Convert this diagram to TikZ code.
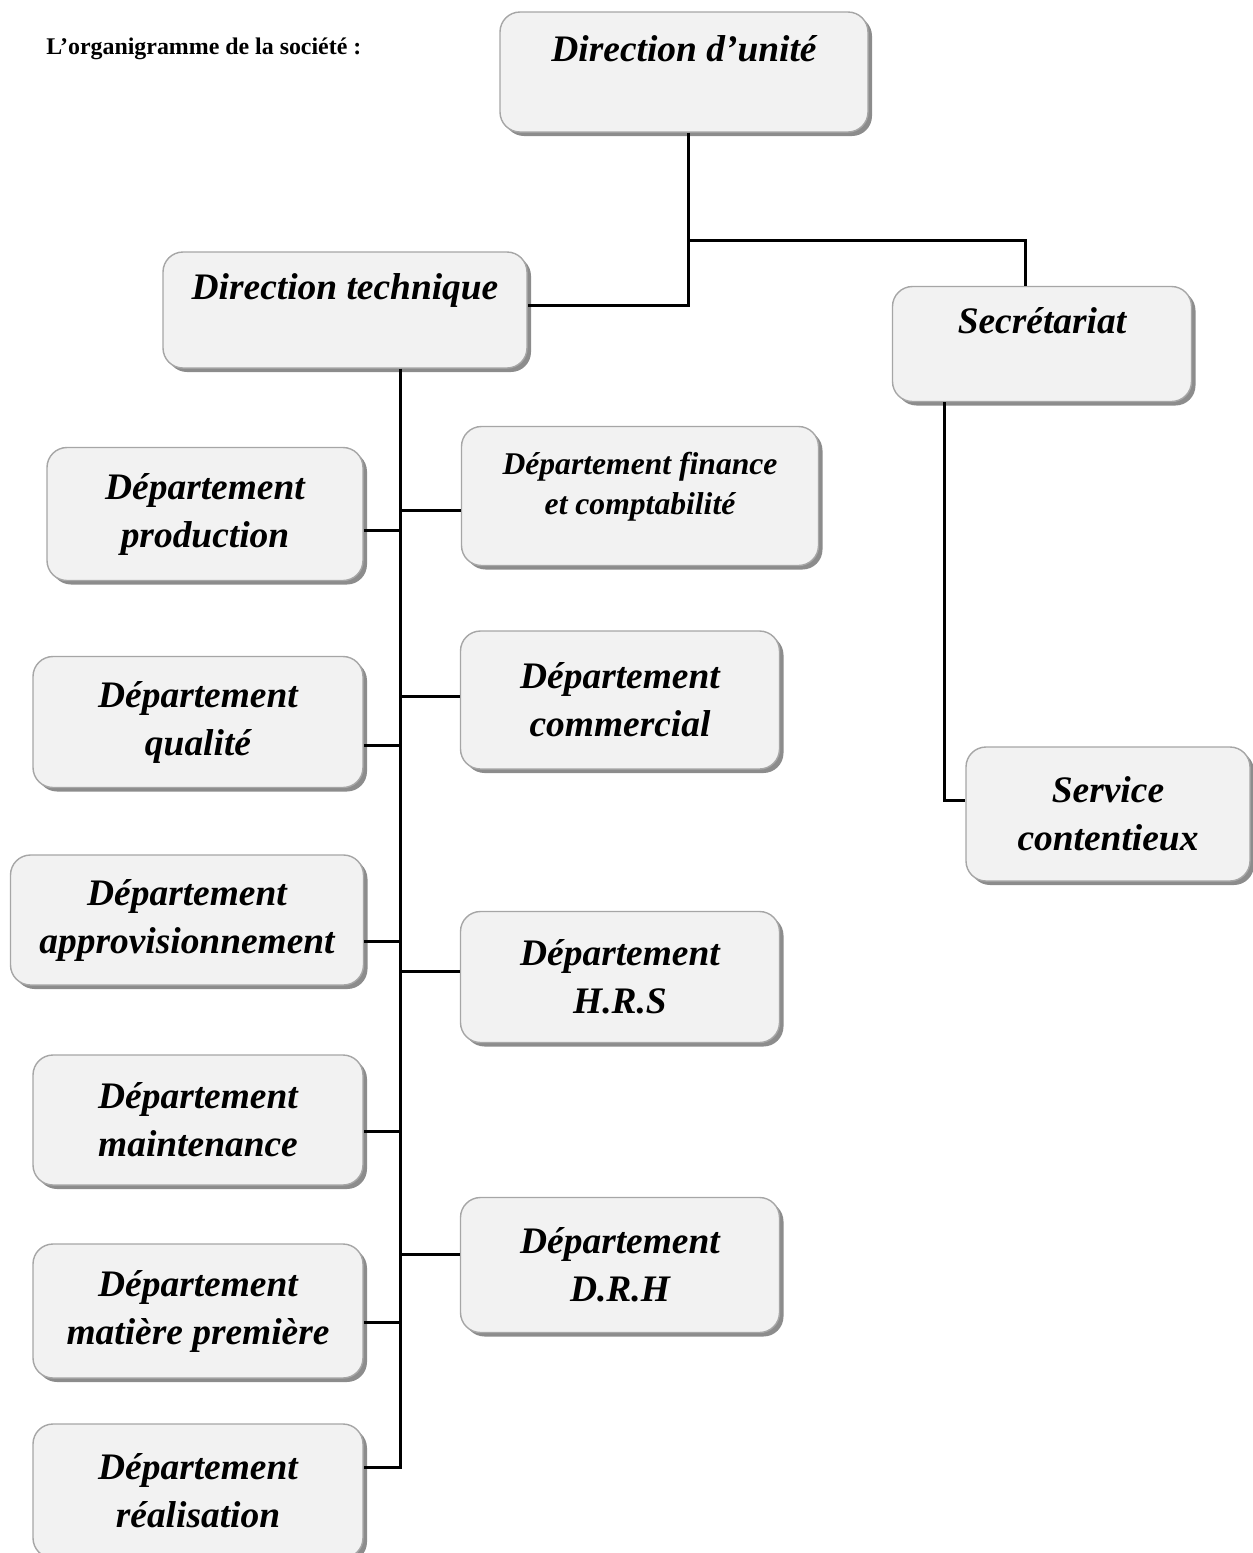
\documentclass[tikz,border=0pt]{standalone}
\usepackage{fontspec}
\setmainfont{Liberation Serif}
\usepackage{tikz}
\usetikzlibrary{shadows}
\usepackage{xcolor}
\definecolor{boxfill}{HTML}{F2F2F2}
\definecolor{boxline}{HTML}{A6A6A6}
\definecolor{boxshadow}{HTML}{8C8C8C}
\tikzset{dep/.style={draw=boxline,line width=0.8pt,fill=boxfill,rounded corners=0.4cm,align=center,inner sep=0pt,font=\bfseries\itshape\fontsize{21.3}{27.3}\selectfont,drop shadow={shadow xshift=0.08cm,shadow yshift=-0.08cm,fill=boxshadow,opacity=1}}}
\tikzset{small/.style={font=\bfseries\itshape\fontsize{18}{22.8}\selectfont}}
\tikzset{link/.style={draw=black,line width=0.06cm}}

\begin{document}
\begin{tikzpicture}[x=0.02cm,y=-0.02cm]
    \useasboundingbox (0,0) rectangle (1253,1553);
    \node[anchor=base west,inner sep=0pt,font=\bfseries\fontsize{13.6}{15}\selectfont] (titre) at (46,54) {L’organigramme de la société :};

    \node[dep,minimum width=368*0.02cm,minimum height=120*0.02cm] (unite) at (684,72) {Direction d’unité\\~};
    \node[dep,minimum width=364*0.02cm,minimum height=116*0.02cm] (tech) at (345,310) {Direction technique\\~};
    \node[dep,minimum width=299*0.02cm,minimum height=115*0.02cm] (secr) at (1042,344) {Secrétariat\\~};
    \node[dep,minimum width=284*0.02cm,minimum height=134*0.02cm] (serv) at (1108,814) {Service\\contentieux};

    \node[dep,small,minimum width=357*0.02cm,minimum height=139*0.02cm] (fin) at (640,496) {Département finance\\et comptabilité\\[-8pt]~};
    \node[dep,minimum width=319*0.02cm,minimum height=138*0.02cm] (comm) at (620,700) {Département\\commercial};
    \node[dep,minimum width=319*0.02cm,minimum height=131*0.02cm] (hrs) at (620,977) {Département\\H.R.S};
    \node[dep,minimum width=319*0.02cm,minimum height=135*0.02cm] (drh) at (620,1265) {Département\\D.R.H};

    \node[dep,minimum width=316*0.02cm,minimum height=133*0.02cm] (prod) at (205,514) {Département\\production};
    \node[dep,minimum width=330*0.02cm,minimum height=131*0.02cm] (qual) at (198,722) {Département\\qualité};
    \node[dep,minimum width=353*0.02cm,minimum height=130*0.02cm] (appro) at (187,920) {Département\\approvisionnement};
    \node[dep,minimum width=330*0.02cm,minimum height=130*0.02cm] (maint) at (198,1120) {Département\\maintenance};
    \node[dep,minimum width=330*0.02cm,minimum height=134*0.02cm] (mat) at (198,1311) {Département\\matière première};
    \node[dep,minimum width=330*0.02cm,minimum height=134*0.02cm] (real) at (198,1491) {Département\\réalisation};

    % liaisons du haut
    \coordinate (top) at (688,305);
    \coordinate (fork) at (688,240);
    \coordinate (secin) at (1025,240);
    \coordinate (secout) at (944,800);
    \draw[link] (unite.south -| top) -- (top) -- (tech.east |- top);
    \draw[link] (fork) -- (secin) -- (secin |- secr.north);
    \draw[link] (secr.south -| secout) -- (secout) -- (serv.west |- secout);

    % tronc des departements
    \coordinate (trunk) at (400,1467);
    \draw[link] (tech.south -| trunk) -- (trunk) -- (real.east |- trunk);
    \foreach \n/\y in {prod/530,qual/745,appro/941,maint/1131,mat/1322}
    {
        \coordinate (b\n) at (400,\y);
        \draw[link] (b\n) -- (\n.east |- b\n);
    }
    \foreach \n/\y in {fin/510,comm/696,hrs/971,drh/1254}
    {
        \coordinate (b\n) at (400,\y);
        \draw[link] (b\n) -- (\n.west |- b\n);
    }
\end{tikzpicture}
\end{document}
